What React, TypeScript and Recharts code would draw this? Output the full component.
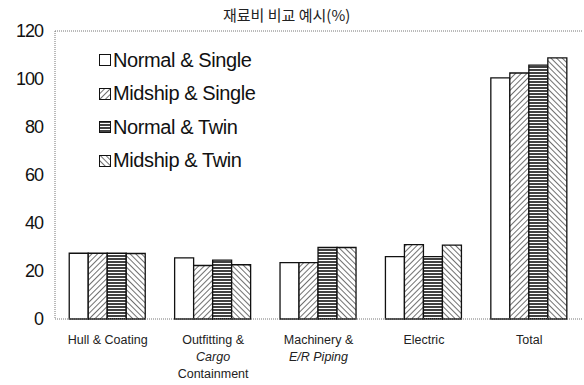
import { BarChart, Bar, XAxis, YAxis, ReferenceLine } from 'recharts'

const categories = ['Hull & Coating', 'Outfitting & Cargo Containment', 'Machinery & E/R Piping', 'Electric', 'Total']
// tick label lines, [text, italic]
const tickLines: [string, boolean][][] = [
  [['Hull & Coating', false]],
  [['Outfitting &', false], ['Cargo', true], ['Containment', false]],
  [['Machinery &', false], ['E/R Piping', true]],
  [['Electric', false]],
  [['Total', false]],
]
const normalSingle = [27.4, 25.5, 23.5, 26, 100.5]
const midshipSingle = [27.4, 22.3, 23.5, 31, 102.5]
const normalTwin = [27.4, 24.5, 29.8, 26, 105.8]
const midshipTwin = [27.3, 22.6, 29.8, 30.8, 108.8]
const yTicks = [0, 20, 40, 60, 80, 100, 120]

const series = [
  { key: 'Normal & Single', fill: '#ffffff' },
  { key: 'Midship & Single', fill: 'url(#hatchFwd)' },
  { key: 'Normal & Twin', fill: 'url(#hatchHoriz)' },
  { key: 'Midship & Twin', fill: 'url(#hatchBack)' },
]

const data = categories.map((c, i) => ({
  name: c,
  'Normal & Single': normalSingle[i],
  'Midship & Single': midshipSingle[i],
  'Normal & Twin': normalTwin[i],
  'Midship & Twin': midshipTwin[i],
}))

const FONT = 'Arial, "Liberation Sans", sans-serif'

function CategoryTick(props: any) {
  const { x, y, payload } = props
  const lines = tickLines[payload.index] ?? [[payload.value, false]]
  return (
    <g transform={`translate(${x},${y})`}>
      {lines.map(([t, it], k) => (
        <text
          key={k}
          x={0}
          y={17 + k * 17}
          textAnchor="middle"
          fontSize={12.5}
          fontStyle={it ? 'italic' : 'normal'}
          fill="#222"
          fontFamily={FONT}
        >
          {t}
        </text>
      ))}
    </g>
  )
}

function LegendBox() {
  return (
    <div
      style={{
        position: 'absolute',
        left: 99,
        top: 43.5,
        fontFamily: FONT,
        fontSize: 20,
        color: '#111',
        letterSpacing: -0.4,
      }}
    >
      {series.map(s => (
        <div key={s.key} style={{ display: 'flex', alignItems: 'center', height: 33.5 }}>
          <svg width={12} height={12} style={{ marginRight: 2 }}>
            <rect x={0.5} y={0.5} width={11} height={11} fill={s.fill} stroke="#111" strokeWidth={1} />
          </svg>
          <span>{s.key}</span>
        </div>
      ))}
    </div>
  )
}

export default function App() {
  return (
    <div style={{ position: 'absolute', left: 0, top: 0, width: 584, height: 385, background: '#fff' }}>
      <div
        style={{
          position: 'absolute',
          top: 7,
          left: 223,
          fontSize: 15,
          lineHeight: 1,
          fontFamily: '"Noto Sans CJK KR", sans-serif',
          color: '#222',
        }}
      >
        재료비 비교 예시(%)
      </div>
      <BarChart
        width={584}
        height={385}
        data={data}
        margin={{ top: 31, right: 2, bottom: 0, left: 0 }}
        barCategoryGap="13.5%"
        barGap={0}
      >
        <defs>
          <pattern id="hatchFwd" width={4} height={4} patternUnits="userSpaceOnUse" patternTransform="rotate(45)">
            <rect width={4} height={4} fill="#fff" />
            <line x1={0} y1={0} x2={0} y2={4} stroke="#111" strokeWidth={1.2} />
          </pattern>
          <pattern id="hatchBack" width={4} height={4} patternUnits="userSpaceOnUse" patternTransform="rotate(-45)">
            <rect width={4} height={4} fill="#fff" />
            <line x1={0} y1={0} x2={0} y2={4} stroke="#111" strokeWidth={1.2} />
          </pattern>
          <pattern id="hatchHoriz" width={4} height={3} patternUnits="userSpaceOnUse">
            <rect width={4} height={3} fill="#fff" />
            <line x1={0} y1={1} x2={4} y2={1} stroke="#111" strokeWidth={1.6} />
          </pattern>
        </defs>
        <XAxis
          dataKey="name"
          height={66}
          interval={0}
          tick={<CategoryTick />}
          tickLine={false}
          axisLine={{ stroke: '#777', strokeDasharray: '1 1' }}
        />
        <YAxis
          domain={[0, 120]}
          ticks={yTicks}
          interval={0}
          width={55}
          tickSize={0}
          tickMargin={12}
          tickLine={false}
          axisLine={{ stroke: '#777', strokeDasharray: '1 1' }}
          tick={{ fontSize: 18, fill: '#111', fontFamily: FONT, letterSpacing: -1 }}
        />
        <YAxis
          yAxisId="right"
          orientation="right"
          width={0}
          domain={[0, 120]}
          tick={false}
          tickLine={false}
          axisLine={{ stroke: '#777', strokeDasharray: '1 1' }}
        />
        <ReferenceLine y={120} stroke="#777" strokeDasharray="1 1" />
        {series.map(s => (
          <Bar
            key={s.key}
            dataKey={s.key}
            fill={s.fill}
            stroke="#111"
            strokeWidth={1.3}
            isAnimationActive={false}
          />
        ))}
      </BarChart>
      <LegendBox />
    </div>
  )
}
